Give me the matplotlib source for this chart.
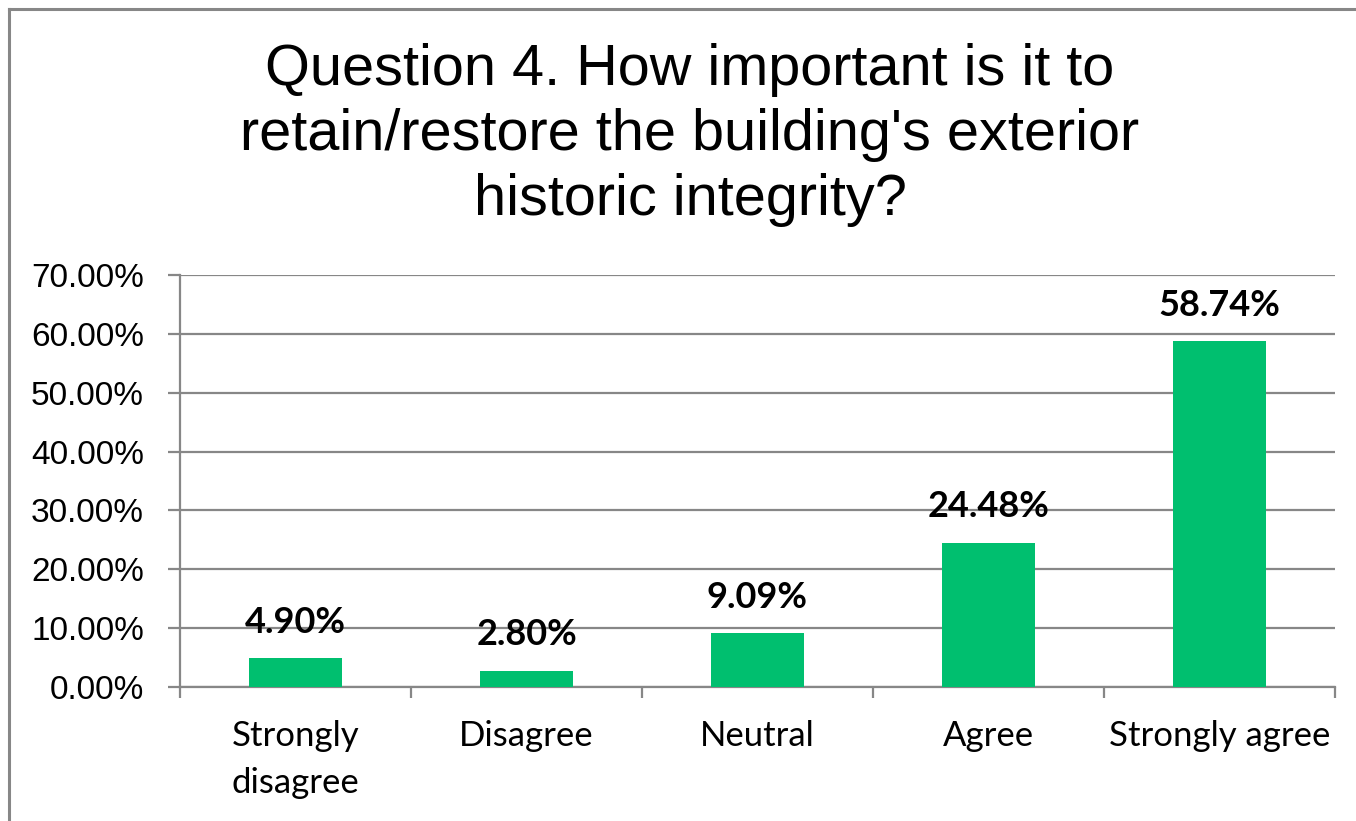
import matplotlib
matplotlib.use("Agg")
import matplotlib.pyplot as plt
from matplotlib.lines import Line2D
from matplotlib.ticker import FixedLocator, PercentFormatter
import numpy as np

categories = ["Strongly\ndisagree", "Disagree", "Neutral", "Agree", "Strongly agree"]
shares = [4.90, 2.80, 9.09, 24.48, 58.74]
y_ticks = [0, 10, 20, 30, 40, 50, 60, 70]
title = "Question 4. How important is it to\nretain/restore the building's exterior\nhistoric integrity?"

W, H = 1356, 821
grid_col = "#878787"
bar_col = "#00BF6F"

fig = plt.figure(figsize=(W / 100, H / 100), dpi=100)
ax = fig.add_axes([180 / W, 1 - 687 / H, (1335 - 180) / W, (687 - 275) / H])

x = np.arange(len(categories))
ax.bar(x, shares, width=0.4, color=bar_col, zorder=3)
ax.set_xlim(-0.5, len(categories) - 0.5)
ax.set_ylim(0, 70)

ax.set_yticks(y_ticks)
ax.yaxis.set_major_formatter(PercentFormatter(decimals=2))
ax.grid(axis="y", color=grid_col, lw=1.6, zorder=0)
ax.tick_params(axis="y", length=9, width=1.6, color=grid_col, pad=17,
               labelsize=24)
for lab in ax.get_yticklabels():
    lab.set_fontfamily("Liberation Sans")

ax.set_xticks(x)
ax.set_xticklabels(categories, fontfamily="Lato", fontsize=25, linespacing=1.55)
ax.tick_params(axis="x", which="major", length=0, pad=24)
ax.xaxis.set_minor_locator(FixedLocator(np.arange(-0.5, len(categories), 1.0)))
ax.tick_params(axis="x", which="minor", length=8, width=1.6, color=grid_col)

for side in ["top", "right"]:
    ax.spines[side].set_visible(False)
for side in ["left", "bottom"]:
    ax.spines[side].set_color(grid_col)
    ax.spines[side].set_linewidth(1.6)

for xi, v in zip(x, shares):
    ax.annotate(f"{v:.2f}%", (xi, v), xytext=(0, 26), textcoords="offset points",
                ha="center", va="center", fontfamily="Lato", fontweight="bold",
                fontsize=26, zorder=4)

fig.text(690 / W, 1 - 135 / H, title, ha="center", va="center",
         fontfamily="Liberation Sans", fontsize=41.5, linespacing=1.26)

# chart frame (only the top and left edges are inside the picture)
fig.add_artist(Line2D([9 / W, 9 / W], [0, 1 - 9 / H], color=grid_col, lw=2.2))
fig.add_artist(Line2D([9 / W, 1], [1 - 9 / H, 1 - 9 / H], color=grid_col, lw=2.2))

fig.savefig("out.png", dpi=100)
